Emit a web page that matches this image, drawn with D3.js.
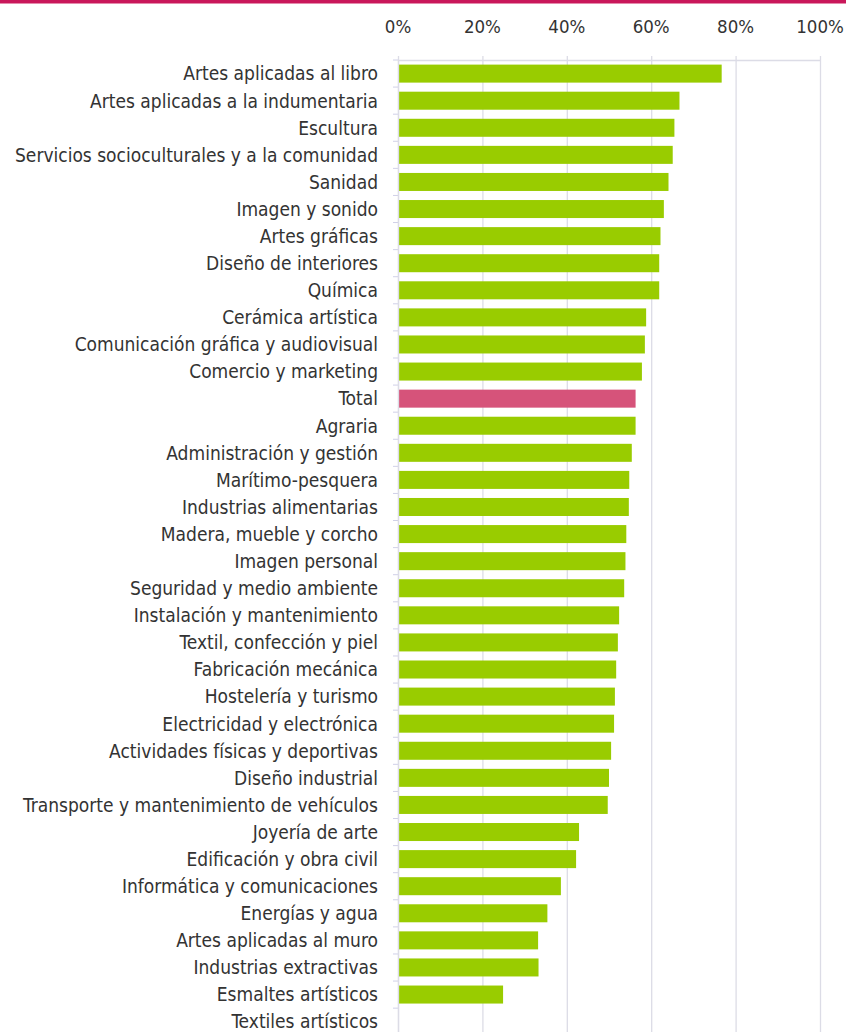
<!DOCTYPE html>
<html>
<head>
<meta charset="utf-8">
<script src="https://cdn.jsdelivr.net/npm/d3@7"></script>
<style>
  body { margin: 0; background: #fff; }
  svg text { font-family: "DejaVu Sans Condensed", "DejaVu Sans", sans-serif; fill: #333; }
</style>
</head>
<body>
<svg id="chart" width="846" height="1032"></svg>
<script>
// familias profesionales y su porcentaje
var categories = [
  'Artes aplicadas al libro', 'Artes aplicadas a la indumentaria', 'Escultura',
  'Servicios socioculturales y a la comunidad', 'Sanidad', 'Imagen y sonido',
  'Artes gráficas', 'Diseño de interiores', 'Química', 'Cerámica artística',
  'Comunicación gráfica y audiovisual', 'Comercio y marketing', 'Total', 'Agraria',
  'Administración y gestión', 'Marítimo-pesquera', 'Industrias alimentarias',
  'Madera, mueble y corcho', 'Imagen personal', 'Seguridad y medio ambiente',
  'Instalación y mantenimiento', 'Textil, confección y piel', 'Fabricación mecánica',
  'Hostelería y turismo', 'Electricidad y electrónica', 'Actividades físicas y deportivas',
  'Diseño industrial', 'Transporte y mantenimiento de vehículos', 'Joyería de arte',
  'Edificación y obra civil', 'Informática y comunicaciones', 'Energías y agua',
  'Artes aplicadas al muro', 'Industrias extractivas', 'Esmaltes artísticos',
  'Textiles artísticos'
];
var values = [
  76.7, 66.7, 65.5, 65.1, 64.1, 63.0, 62.2, 61.9, 61.9, 58.8, 58.5, 57.8, 56.3, 56.3,
  55.4, 54.8, 54.7, 54.1, 53.9, 53.6, 52.4, 52.1, 51.7, 51.4, 51.2, 50.5, 50.0, 49.7,
  42.9, 42.2, 38.6, 35.4, 33.2, 33.3, 24.9, 0
];
var ticks = [0, 20, 40, 60, 80, 100];

var svg = d3.select('#chart'),
  width = +svg.attr('width'),
  height = +svg.attr('height');

//franja superior
svg.append('rect').attr('x', 0).attr('y', 0).attr('width', width).attr('height', 3.5)
  .attr('fill', '#c9175a');

var left = 398, right = 820, axisTop = 60, step = 27.09;

var x = d3.scaleLinear().domain([0, 100]).range([left, right]);
var y = d3.scaleBand().domain(categories)
  .range([axisTop, axisTop + step * categories.length]).paddingInner(0.335).paddingOuter(0.17);

//rejilla vertical
svg.append('g').selectAll('line').data(ticks).join('line')
  .attr('x1', d => x(d) + 0.5).attr('x2', d => x(d) + 0.5)
  .attr('y1', axisTop - 4).attr('y2', height)
  .attr('stroke', '#dcdce6').attr('stroke-width', 1.3);

//eje superior
svg.append('line').attr('x1', left).attr('x2', right + 1)
  .attr('y1', axisTop + 0.5).attr('y2', axisTop + 0.5)
  .attr('stroke', '#dcdce6').attr('stroke-width', 1.3);

svg.append('g').selectAll('text').data(ticks).join('text')
  .attr('x', d => x(d)).attr('y', 33)
  .attr('text-anchor', 'middle')
  .style('font-size', '18.5px')
  .text(d => d + '%');

//marcas del eje izquierdo
svg.append('g').selectAll('line').data(d3.range(categories.length + 1)).join('line')
  .attr('x1', left - 5).attr('x2', left)
  .attr('y1', i => axisTop + i * step).attr('y2', i => axisTop + i * step)
  .attr('stroke', '#d0d0e8').attr('stroke-width', 1);

//barras
svg.append('g').selectAll('rect').data(values).join('rect')
  .attr('x', x(0))
  .attr('y', (d, i) => y(categories[i]))
  .attr('width', d => x(d) - x(0))
  .attr('height', y.bandwidth())
  .attr('fill', (d, i) => categories[i] == 'Total' ? '#d6537a' : '#99cc00');

//eje vertical
svg.append('line').attr('x1', left + 0.5).attr('x2', left + 0.5)
  .attr('y1', axisTop).attr('y2', height)
  .attr('stroke', '#dcdce6').attr('stroke-width', 1.3);

//etiquetas
svg.append('g').selectAll('text').data(categories).join('text')
  .attr('x', 378)
  .attr('y', d => y(d) + y.bandwidth() / 2)
  .attr('dy', '0.36em')
  .attr('text-anchor', 'end')
  .style('font-size', '19px')
  .text(d => d);
</script>
</body>
</html>
